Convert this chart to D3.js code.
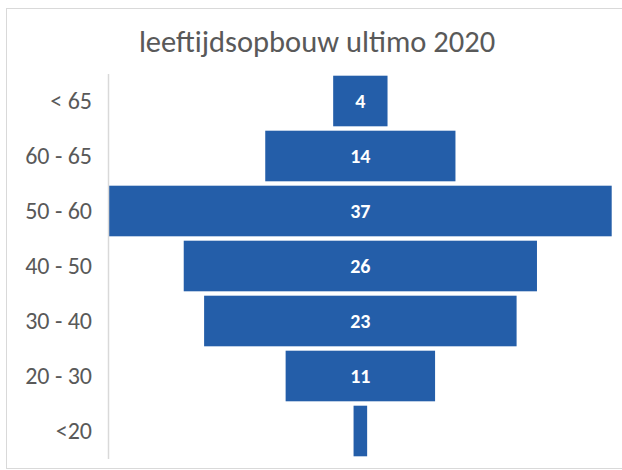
<!DOCTYPE html>
<html>
<head>
<meta charset="utf-8">
<script src="https://cdn.jsdelivr.net/npm/d3@7"></script>
<style>
  html, body { margin: 0; padding: 0; background: #ffffff; }
  svg { display: block; }
</style>
</head>
<body>
<svg id="chart" width="622" height="470"></svg>
<script>
const title = "leeftijdsopbouw ultimo 2020";
const categories = ["< 65", "60 - 65", "50 - 60", "40 - 50", "30 - 40", "20 - 30", "<20"];
const values = [4, 14, 37, 26, 23, 11, 1];
const maxHalf = 18.5;

const svg = d3.select("#chart");
const FONT = "Calibri, Carlito, 'Open Sans', sans-serif";

// chart frame
svg.append("rect")
  .attr("x", 6.5).attr("y", 8.5)
  .attr("width", 640).attr("height", 460)
  .attr("fill", "#ffffff")
  .attr("stroke", "#d9d9d9").attr("stroke-width", 1);

// title
svg.append("text")
  .attr("x", 317).attr("y", 52)
  .attr("text-anchor", "middle")
  .attr("font-family", FONT)
  .attr("font-size", 30.5)
  .attr("fill", "#595959")
  .text(title);

const x = d3.scaleLinear().domain([-maxHalf, maxHalf]).range([109, 611.7]);
const y = d3.scaleBand().domain(categories).range([73.5, 458.5])
  .paddingInner(0.08).paddingOuter(0.04);

// bars
const g = svg.append("g");
g.selectAll("rect.bar")
  .data(categories.map((c, i) => ({ c, v: values[i] })))
  .join("rect")
  .attr("class", "bar")
  .attr("x", d => x(-d.v / 2))
  .attr("width", d => x(d.v / 2) - x(-d.v / 2))
  .attr("y", d => y(d.c))
  .attr("height", y.bandwidth())
  .attr("fill", "#245ea9");

// data labels (only where the bar is wide enough)
g.selectAll("text.lbl")
  .data(categories.map((c, i) => ({ c, v: values[i] })).filter(d => x(d.v / 2) - x(-d.v / 2) > 30))
  .join("text")
  .attr("class", "lbl")
  .attr("x", d => x(0))
  .attr("y", d => y(d.c) + y.bandwidth() / 2)
  .attr("dy", "0.35em")
  .attr("text-anchor", "middle")
  .attr("font-family", FONT)
  .attr("font-size", 20)
  .attr("font-weight", "bold")
  .attr("fill", "#ffffff")
  .text(d => d.v);

// y axis
const axis = svg.append("g")
  .attr("transform", "translate(108,0)")
  .call(d3.axisLeft(y).tickSize(0).tickPadding(16));
axis.select(".domain").attr("stroke", "#d9d9d9").attr("stroke-width", 1.5);
axis.selectAll(".tick text")
  .attr("font-family", FONT)
  .attr("font-size", 24)
  .attr("fill", "#595959");
</script>
</body>
</html>
